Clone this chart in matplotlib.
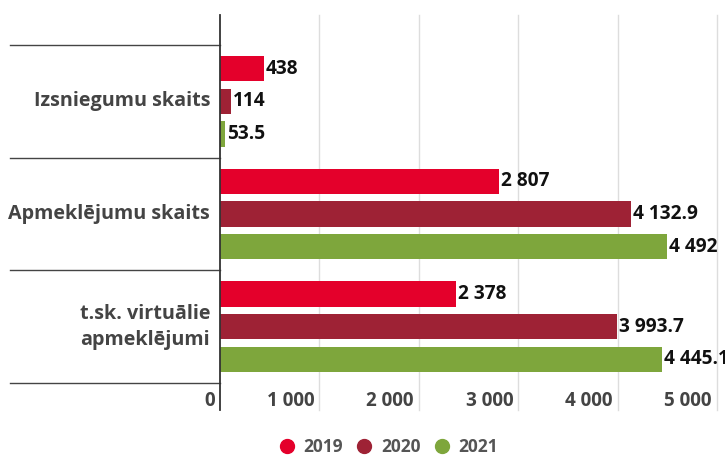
import matplotlib.pyplot as plt
import matplotlib.transforms as mtransforms
from matplotlib.lines import Line2D

categories = ["Izsniegumu skaits", "Apmeklējumu skaits", "t.sk. virtuālie\napmeklējumi"]
years = ["2019", "2020", "2021"]
values_2019 = [438, 2807, 2378]
values_2020 = [114, 4132.9, 3993.7]
values_2021 = [53.5, 4492, 4445.1]
xticks = [0, 1000, 2000, 3000, 4000, 5000]
colors = ["#E4002B", "#9E2235", "#7EA63C"]

plt.rcParams['font.family'] = ['Open Sans', 'DejaVu Sans']


def fmt(v):
    return f"{v:,}".replace(",", " ")


fig = plt.figure(figsize=(7.25, 4.57), dpi=100)
W, H = 725, 457
ax = fig.add_axes([220 / W, (H - 383) / H, (717 - 220) / W, (383 - 15) / H])

series = [values_2019, values_2020, values_2021]
offsets = [-0.29, 0, 0.29]
ypos = list(range(len(categories)))
for vals, off, c in zip(series, offsets, colors):
    ys = [y + off for y in ypos]
    ax.barh(ys, vals, height=0.225, color=c, zorder=3)
    for y, v in zip(ys, vals):
        ax.annotate(fmt(v), xy=(v, y), xytext=(2, 0), textcoords='offset pixels',
                    ha='left', va='center', fontsize=13.8, fontweight='bold',
                    color='#111111', zorder=4)

ax.set_xlim(0, 5000)
ax.set_ylim(2.5, -0.765)
for s in ax.spines.values():
    s.set_visible(False)
ax.set_xticks([])
ax.set_yticks([])

ext = 27 / 368
for v in xticks:
    if v == 0:
        ax.axvline(v, ymin=-ext, ymax=1, color='#333333', lw=1.3, clip_on=False, zorder=5)
    else:
        ax.axvline(v, ymin=-ext, ymax=1, color='#dddddd', lw=1, clip_on=False, zorder=1)
    ax.annotate(fmt(v), xy=(v, 0), xycoords=('data', 'axes fraction'),
                xytext=(-5, -18), textcoords='offset pixels', ha='right', va='center',
                fontsize=13.6, fontweight='bold', color='#444444')

trans = mtransforms.blended_transform_factory(ax.transAxes, ax.transData)
left = (10 - 220) / (717 - 220)
for b in [-0.5, 0.5, 1.5, 2.5]:
    ax.plot([left, 0], [b, b], color='#444444', lw=1, transform=trans, clip_on=False)

for y, cat in zip(ypos, categories):
    ax.annotate(cat, xy=(0, y), xytext=(-10, 0), textcoords='offset pixels',
                ha='right', va='center', fontsize=14.2, fontweight='bold',
                color='#444444', linespacing=1.4)

handles = [Line2D([], [], marker='o', ls='none', markersize=10, color=c) for c in colors]
fig.legend(handles, years, loc='center', bbox_to_anchor=(388 / W, 1 - 447 / H), ncol=3,
           frameon=False, handlelength=1.0, handletextpad=0.45, columnspacing=0.75,
           prop={'size': 12.5, 'weight': 'bold'}, labelcolor='#555555')

fig.savefig('out.png', dpi=100)
